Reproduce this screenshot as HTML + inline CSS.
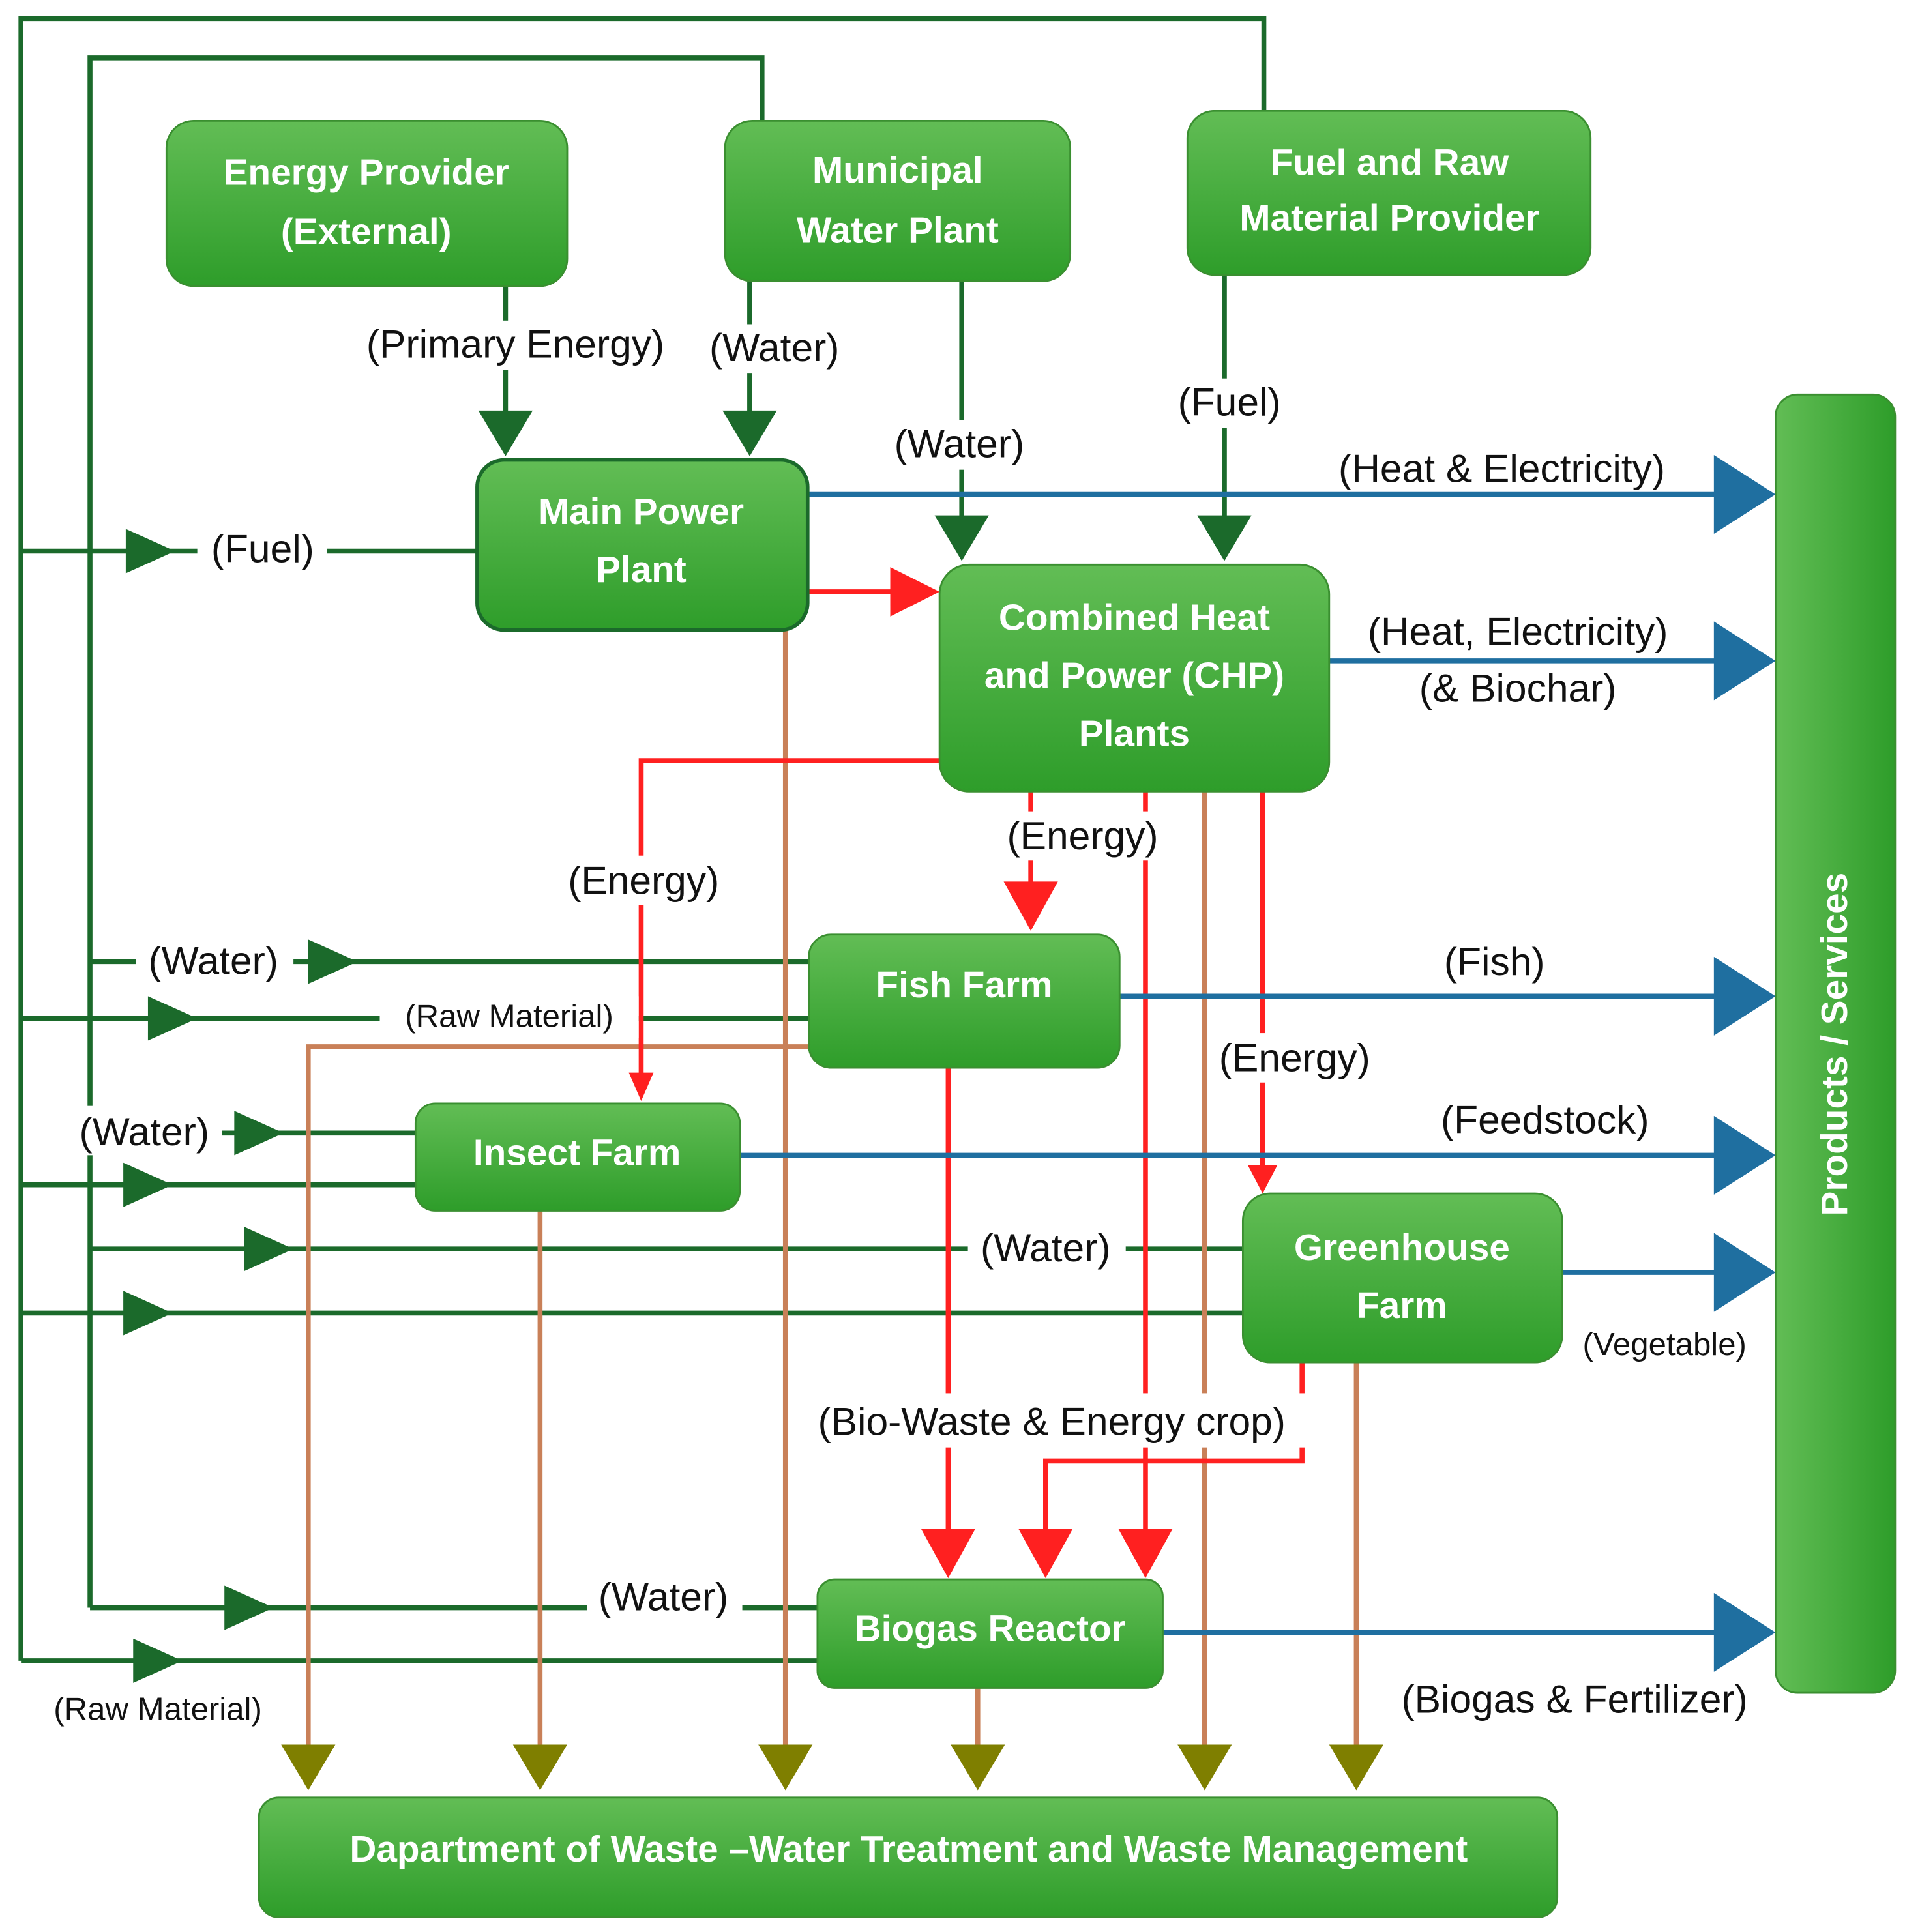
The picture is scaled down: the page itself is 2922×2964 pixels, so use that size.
<!DOCTYPE html>
<html><head><meta charset="utf-8"><style>
html,body{margin:0;padding:0;background:#fff}
svg{display:block}
text{font-family:"Liberation Sans",Arial,sans-serif}
.bt{fill:#fff;font-weight:bold;font-size:30px;text-anchor:middle}
.lb{fill:#111;font-size:32px;text-anchor:middle}
.sm{fill:#111;font-size:26px;text-anchor:middle}
.g{stroke:#1b6a2b;stroke-width:4;fill:none}
.b{stroke:#1f6fa0;stroke-width:4;fill:none}
.r{stroke:#ff2020;stroke-width:4;fill:none}
.br{stroke:#c98058;stroke-width:4;fill:none}
</style></head><body>
<svg width="2922" height="2964" viewBox="0 0 1545 1567" preserveAspectRatio="none" xmlns="http://www.w3.org/2000/svg">
<defs>
<linearGradient id="gr" x1="0" y1="0" x2="0" y2="1"><stop offset="0" stop-color="#62bd55"/><stop offset="1" stop-color="#2e9d2a"/></linearGradient>
<linearGradient id="gh" x1="0" y1="0" x2="1" y2="0"><stop offset="0" stop-color="#62bd55"/><stop offset="1" stop-color="#2e9d2a"/></linearGradient>
</defs>
<path class="g" d="M17,1347 V15 H1025 V90"/>
<path class="g" d="M73,1304 V47 H618 V98"/>
<path class="g" d="M17,447 H387"/>
<path class="g" d="M17,826 H656"/>
<path class="g" d="M17,961 H337"/>
<path class="g" d="M17,1065 H1008"/>
<path class="g" d="M17,1347 H663"/>
<path class="g" d="M73,780 H656"/>
<path class="g" d="M73,919 H337"/>
<path class="g" d="M73,1013 H1008"/>
<path class="g" d="M73,1304 H663"/>
<g fill="#1b6a2b">
<polygon points="102,429 142,447 102,465"/>
<polygon points="120,808 160,826 120,844"/>
<polygon points="100,943 140,961 100,979"/>
<polygon points="100,1047 140,1065 100,1083"/>
<polygon points="108,1329 148,1347 108,1365"/>
<polygon points="250,762 290,780 250,798"/>
<polygon points="190,901 230,919 190,937"/>
<polygon points="198,995 238,1013 198,1031"/>
<polygon points="182,1286 222,1304 182,1322"/>
</g>
<path class="g" d="M410,232 V340 M608,228 V340 M780,228 V425 M993,223 V425"/>
<g fill="#1b6a2b">
<polygon points="388,333 432,333 410,370"/>
<polygon points="586,333 630,333 608,370"/>
<polygon points="758,418 802,418 780,455"/>
<polygon points="971,418 1015,418 993,455"/>
</g>
<path class="br" d="M656,849 H250 V1420 M438,982 V1420 M637,511 V1420 M793,1369 V1420 M977,642 V1420 M1100,1105 V1420"/>
<g fill="#7f7f00">
<polygon points="228,1415 272,1415 250,1452"/>
<polygon points="416,1415 460,1415 438,1452"/>
<polygon points="615,1415 659,1415 637,1452"/>
<polygon points="771,1415 815,1415 793,1452"/>
<polygon points="955,1415 999,1415 977,1452"/>
<polygon points="1078,1415 1122,1415 1100,1452"/>
</g>
<path class="r" d="M650,480 H725 M762,617 H520 V875 M836,642 V720 M929,642 V1245 M1024,642 V950 M769,866 V1245 M1056,1105 V1185 H848 V1245"/>
<g fill="#ff2020">
<polygon points="722,460 762,480 722,500"/>
<polygon points="510,870 530,870 520,893"/>
<polygon points="814,715 858,715 836,755"/>
<polygon points="907,1240 951,1240 929,1280"/>
<polygon points="1012,945 1036,945 1024,968"/>
<polygon points="747,1240 791,1240 769,1280"/>
<polygon points="826,1240 870,1240 848,1280"/>
</g>
<path class="b" d="M655,401 H1395 M1078,536 H1395 M908,808 H1395 M600,937 H1395 M1267,1032 H1395 M943,1324 H1395"/>
<g fill="#1f6fa0">
<polygon points="1390,369 1440,401 1390,433"/>
<polygon points="1390,504 1440,536 1390,568"/>
<polygon points="1390,776 1440,808 1390,840"/>
<polygon points="1390,905 1440,937 1390,969"/>
<polygon points="1390,1000 1440,1032 1390,1064"/>
<polygon points="1390,1292 1440,1324 1390,1356"/>
</g>
<g stroke="#3a8f30" stroke-width="1.5">
<rect x="135" y="98" width="325" height="134" rx="22" fill="url(#gr)"/>
<rect x="588" y="98" width="280" height="130" rx="22" fill="url(#gr)"/>
<rect x="963" y="90" width="327" height="133" rx="22" fill="url(#gr)"/>
<rect x="387" y="373" width="268" height="138" rx="22" fill="url(#gr)" stroke="#1b6a2b" stroke-width="3"/>
<rect x="762" y="458" width="316" height="184" rx="24" fill="url(#gr)"/>
<rect x="656" y="758" width="252" height="108" rx="18" fill="url(#gr)"/>
<rect x="337" y="895" width="263" height="87" rx="16" fill="url(#gr)"/>
<rect x="1008" y="968" width="259" height="137" rx="22" fill="url(#gr)"/>
<rect x="663" y="1281" width="280" height="88" rx="14" fill="url(#gr)"/>
<rect x="210" y="1458" width="1053" height="97" rx="16" fill="url(#gr)"/>
<rect x="1440" y="320" width="97" height="1053" rx="18" fill="url(#gh)"/>
</g>
<text class="bt" x="297" y="150">Energy Provider</text>
<text class="bt" x="297" y="198">(External)</text>
<text class="bt" x="728" y="148">Municipal</text>
<text class="bt" x="728" y="197">Water Plant</text>
<text class="bt" x="1127" y="142">Fuel and Raw</text>
<text class="bt" x="1127" y="187">Material Provider</text>
<text class="bt" x="520" y="425">Main Power</text>
<text class="bt" x="520" y="472">Plant</text>
<text class="bt" x="920" y="511">Combined Heat</text>
<text class="bt" x="920" y="558">and Power (CHP)</text>
<text class="bt" x="920" y="605">Plants</text>
<text class="bt" x="782" y="809">Fish Farm</text>
<text class="bt" x="468" y="945">Insect Farm</text>
<text class="bt" x="1137" y="1022">Greenhouse</text>
<text class="bt" x="1137" y="1069">Farm</text>
<text class="bt" x="803" y="1331">Biogas Reactor</text>
<text class="bt" x="737" y="1510">Dapartment of Waste –Water Treatment and Waste Management</text>
<text class="bt" transform="translate(1498,847) rotate(-90)">Products / Services</text>
<g class="lb">
<g fill="#fff">
<rect x="160" y="425" width="105" height="40"/>
<rect x="290" y="260" width="260" height="40"/>
<rect x="568" y="263" width="120" height="40"/>
<rect x="718" y="341" width="120" height="40"/>
<rect x="953" y="307" width="90" height="40"/>
<rect x="458" y="694" width="128" height="40"/>
<rect x="814" y="658" width="128" height="40"/>
<rect x="986" y="838" width="128" height="40"/>
<rect x="110" y="758" width="128" height="40"/>
<rect x="55" y="897" width="125" height="40"/>
<rect x="785" y="992" width="128" height="40"/>
<rect x="476" y="1274" width="126" height="40"/>
<rect x="640" y="1130" width="425" height="44"/>
<rect x="308" y="808" width="210" height="34"/>
</g>
<text x="213" y="456">(Fuel)</text>
<text x="418" y="290">(Primary Energy)</text>
<text x="628" y="293">(Water)</text>
<text x="778" y="371">(Water)</text>
<text x="997" y="337">(Fuel)</text>
<text x="1218" y="391">(Heat &amp; Electricity)</text>
<text x="1231" y="523">(Heat, Electricity)</text>
<text x="1231" y="569">(&amp; Biochar)</text>
<text x="522" y="725">(Energy)</text>
<text x="878" y="689">(Energy)</text>
<text x="1050" y="869">(Energy)</text>
<text x="1212" y="791">(Fish)</text>
<text x="1253" y="919">(Feedstock)</text>
<text x="173" y="790">(Water)</text>
<text x="117" y="929">(Water)</text>
<text x="848" y="1023">(Water)</text>
<text x="538" y="1306">(Water)</text>
<text x="853" y="1164">(Bio-Waste &amp; Energy crop)</text>
<text x="1277" y="1389">(Biogas &amp; Fertilizer)</text>
</g>
<text class="sm" x="413" y="833">(Raw Material)</text>
<text class="sm" x="128" y="1395">(Raw Material)</text>
<text class="sm" x="1350" y="1099">(Vegetable)</text>
</svg>
</body></html>
